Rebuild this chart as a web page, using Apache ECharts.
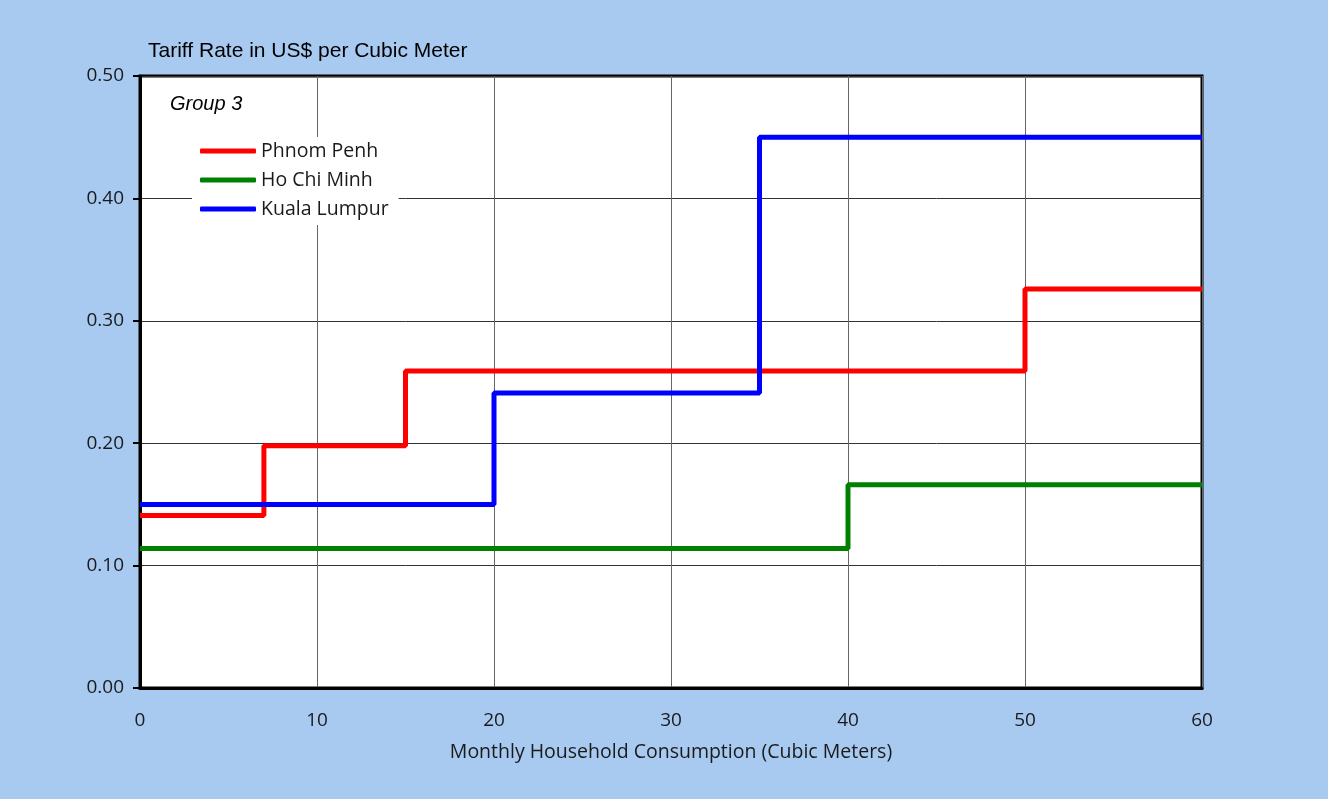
<!DOCTYPE html>
<html><head><meta charset="utf-8">
<script src="https://cdn.jsdelivr.net/npm/echarts@6/dist/echarts.min.js"></script>
<style>html,body{margin:0;padding:0;background:#a8caf0}#c{width:1328px;height:799px}</style>
</head><body><div id="c"></div>
<script>
const seriesNames = ['Phnom Penh', 'Ho Chi Minh', 'Kuala Lumpur'];
const colors = ['#ff0000', '#008000', '#0000ff'];
const phnomPenhX = [0, 7, 15, 50, 60];
const phnomPenhY = [0.141, 0.198, 0.259, 0.326, 0.326];
const hoChiMinhX = [0, 40, 60];
const hoChiMinhY = [0.114, 0.166, 0.166];
const kualaLumpurX = [0, 20, 35, 60];
const kualaLumpurY = [0.150, 0.241, 0.450, 0.450];
const xTicks = [0, 10, 20, 30, 40, 50, 60];
const yTicks = [0, 0.1, 0.2, 0.3, 0.4, 0.5];

const zip = (xs, ys) => xs.map((x, i) => [x, ys[i]]);
const allData = [zip(phnomPenhX, phnomPenhY), zip(hoChiMinhX, hoChiMinhY), zip(kualaLumpurX, kualaLumpurY)];
const font = '"Open Sans", Lato, sans-serif';

const chart = echarts.init(document.getElementById('c'));
chart.setOption({
  backgroundColor: '#a8caf0',
  animation: false,
  grid: { left: 140, right: 126, top: 76, bottom: 111, show: true, backgroundColor: '#fff', borderColor: '#000', borderWidth: 3 },
  graphic: [
    { type: 'text', left: 148, top: 41, style: { text: 'Tariff Rate in US$ per Cubic Meter', font: '21px "Liberation Sans", Arial, sans-serif', fill: '#000' } },
    { type: 'text', left: 170, top: 94, z: 100, style: { text: 'Group 3', font: 'italic 20px "Liberation Sans", Arial, sans-serif', fill: '#000' } }
  ],
  legend: {
    orient: 'vertical', left: 192, top: 137, itemGap: 9, itemWidth: 56, itemHeight: 5,
    icon: 'roundRect', backgroundColor: '#fff', padding: [4, 10, 6, 8],
    textStyle: { fontFamily: font, fontSize: 19.5, color: '#1a1a1a', padding: [0, 0, 0, 0] },
    data: seriesNames
  },
  xAxis: {
    type: 'value', min: 0, max: 60, interval: 10,
    name: 'Monthly Household Consumption (Cubic Meters)', nameLocation: 'middle', nameGap: 54,
    nameTextStyle: { fontFamily: font, fontSize: 19.5, color: '#1a1a1a' },
    axisLine: { lineStyle: { color: '#000', width: 3 } },
    axisTick: { show: false },
    axisLabel: { fontFamily: font, fontSize: 19, color: '#1a1a1a', margin: 23, formatter: v => xTicks.includes(v) ? String(v) : '' },
    splitLine: { lineStyle: { color: '#666', width: 1 } }
  },
  yAxis: {
    type: 'value', min: 0, max: 0.5, interval: 0.1,
    axisLine: { show: true, lineStyle: { color: '#000', width: 3 } },
    axisTick: { show: true, length: 7, lineStyle: { color: '#000', width: 2 } },
    axisLabel: { fontFamily: font, fontSize: 19, color: '#1a1a1a', margin: 16, formatter: v => yTicks.some(t => Math.abs(t - v) < 1e-9) ? v.toFixed(2) : '' },
    splitLine: { lineStyle: { color: '#333', width: 1 } }
  },
  series: seriesNames.map((n, i) => ({
    name: n, type: 'line', step: 'end', data: allData[i], showSymbol: false,
    lineStyle: { color: colors[i], width: 5 }, itemStyle: { color: colors[i] }
  }))
});
</script></body></html>
